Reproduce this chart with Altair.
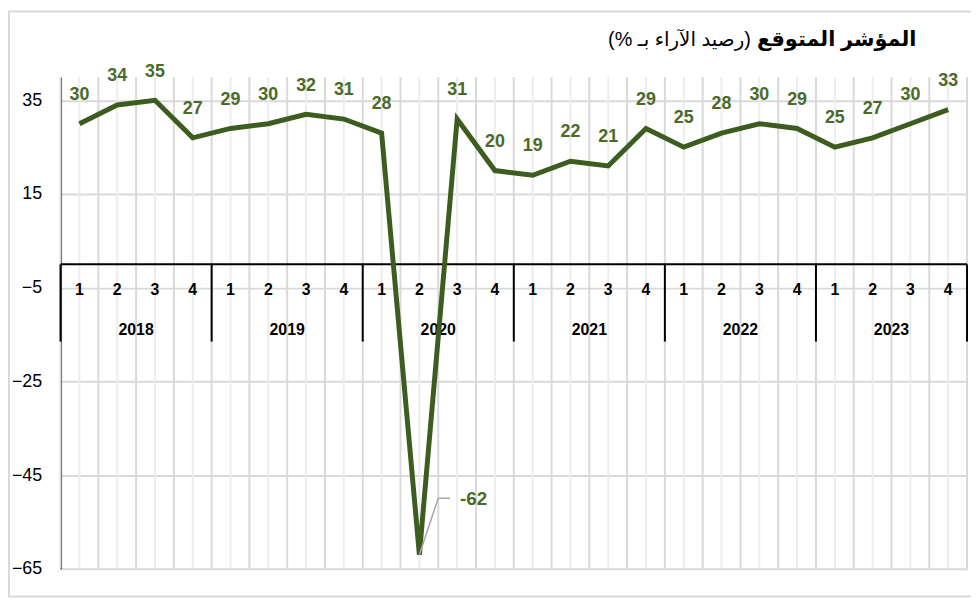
import altair as alt
import pandas as pd

years = ["2018", "2019", "2020", "2021", "2022", "2023"]
quarters = ["1", "2", "3", "4"]
values = [30, 34, 35, 27,
          29, 30, 32, 31,
          28, -62, 31, 20,
          19, 22, 21, 29,
          25, 28, 30, 29,
          25, 27, 30, 33]
y_ticks = [35, 15, -5, -25, -45, -65]
title_bold = "المؤشر المتوقع"
title_rest = "\u200F(رصيد الآراء بـ %)\u200F"

LINE = "#3d5c20"
LABEL = "#4a6a2a"
FONT = "Liberation Sans, Arial, DejaVu Sans"

n = len(values)
YMIN, YMAX = -65, 40
df = pd.DataFrame({
    "pos": [i + 0.5 for i in range(n)],
    "value": values,
    "q": [quarters[i % 4] for i in range(n)],
    "zero": [0] * n,
})
df["label"] = df["value"].astype(str)
vmin = min(values)
df_main = df[df["value"] != vmin]
df_min = df[df["value"] == vmin]

grid_df = pd.DataFrame({
    "gx": [i / 2 for i in range(2 * n + 1)],
    "kind": ["b" if i % 2 == 0 else "c" for i in range(2 * n + 1)],
    "ylo": [YMIN] * (2 * n + 1),
    "yhi": [YMAX] * (2 * n + 1),
})
div_df = pd.DataFrame({"gx": [4 * k for k in range(len(years) + 1)]})
div_df["y0"] = 0
div_df["y1"] = -16.5
zero_df = pd.DataFrame({"x0": [0], "x1": [n], "y0": [0]})
year_df = pd.DataFrame({"pos": [4 * k + 2 for k in range(len(years))], "year": years, "zero": [0] * len(years)})
one_df = pd.DataFrame({"t1": [title_bold], "t2": [title_rest]})

xs = alt.Scale(domain=[0, n], nice=False, zero=False)
ys = alt.Scale(domain=[YMIN, YMAX], nice=False, zero=False)
yaxis = alt.Axis(
    values=y_ticks, grid=True, gridColor="#d9d9d9", gridWidth=2,
    domainColor="black", domainWidth=2, ticks=False,
    labelFontSize=18, labelFont=FONT, labelColor="black",
    labelPadding=19, title=None)


def X(f):
    return alt.X(f, scale=xs, axis=None)


def Y(f):
    return alt.Y(f, scale=ys, axis=yaxis)


vgrid = alt.Chart(grid_df).mark_rule(strokeWidth=2).encode(
    x=X("gx:Q"),
    y=Y("ylo:Q"),
    y2="yhi:Q",
    color=alt.Color("kind:N", scale=alt.Scale(domain=["b", "c"], range=["#d9d9d9", "#ededed"]), legend=None),
)

zero_line = alt.Chart(zero_df).mark_rule(color="black", strokeWidth=2).encode(
    x=X("x0:Q"), x2="x1:Q", y=Y("y0:Q"),
)

dividers = alt.Chart(div_df).mark_rule(color="black", strokeWidth=2).encode(
    x=X("gx:Q"), y=Y("y0:Q"), y2="y1:Q",
)

qlabels = alt.Chart(df).mark_text(dy=26, fontSize=16, fontWeight="bold", font=FONT, color="black").encode(
    x=X("pos:Q"), y=Y("zero:Q"), text="q:N",
)

ylabels = alt.Chart(year_df).mark_text(dy=66, fontSize=16, fontWeight="bold", font=FONT, color="black").encode(
    x=X("pos:Q"), y=Y("zero:Q"), text="year:N",
)

line = alt.Chart(df).mark_line(color=LINE, strokeWidth=5, strokeJoin="miter", strokeCap="butt").encode(
    x=X("pos:Q"), y=Y("value:Q"),
)

labels = alt.Chart(df_main).mark_text(dy=-29, fontSize=18, fontWeight="bold", font=FONT, color=LABEL).encode(
    x=X("pos:Q"), y=Y("value:Q"), text="label:N",
)

leader1 = alt.Chart(df_min).mark_rule(color="#a6a6a6", strokeWidth=1.5, x2Offset=19, y2Offset=-57).encode(
    x=X("pos:Q"), y=Y("value:Q"), x2="pos:Q", y2="value:Q",
)
leader2 = alt.Chart(df_min).mark_rule(color="#a6a6a6", strokeWidth=1.5, xOffset=19, yOffset=-57,
                                      x2Offset=31, y2Offset=-57).encode(
    x=X("pos:Q"), y=Y("value:Q"), x2="pos:Q", y2="value:Q",
)
min_label = alt.Chart(df_min).mark_text(align="left", dx=41, dy=-56, fontSize=19, fontWeight="bold",
                                        font=FONT, color=LABEL).encode(
    x=X("pos:Q"), y=Y("value:Q"), text="label:N",
)

title1 = alt.Chart(one_df).mark_text(align="right", baseline="middle", fontSize=21, fontWeight="bold",
                                     font=FONT, color="black", x=863, y=-37).encode(text="t1:N")
title2 = alt.Chart(one_df).mark_text(align="right", baseline="middle", fontSize=20,
                                     font=FONT, color="black", x=696, y=-37).encode(text="t2:N")

border = alt.Chart(one_df).mark_rect(fill="transparent", stroke="#d9d9d9", strokeWidth=2,
                                     x=-52, x2=925, y=-66, y2=524)

chart = alt.layer(
    border, vgrid, zero_line, dividers, qlabels, ylabels,
    line, labels, leader1, leader2, min_label, title1, title2,
).properties(
    width=914, height=496,
    autosize=alt.AutoSizeParams(type="none"),
    padding={"left": 53, "top": 67, "right": 4, "bottom": 29},
).configure_view(stroke=None)

chart.save("out.html", embed_options={"renderer": "svg", "actions": False})
